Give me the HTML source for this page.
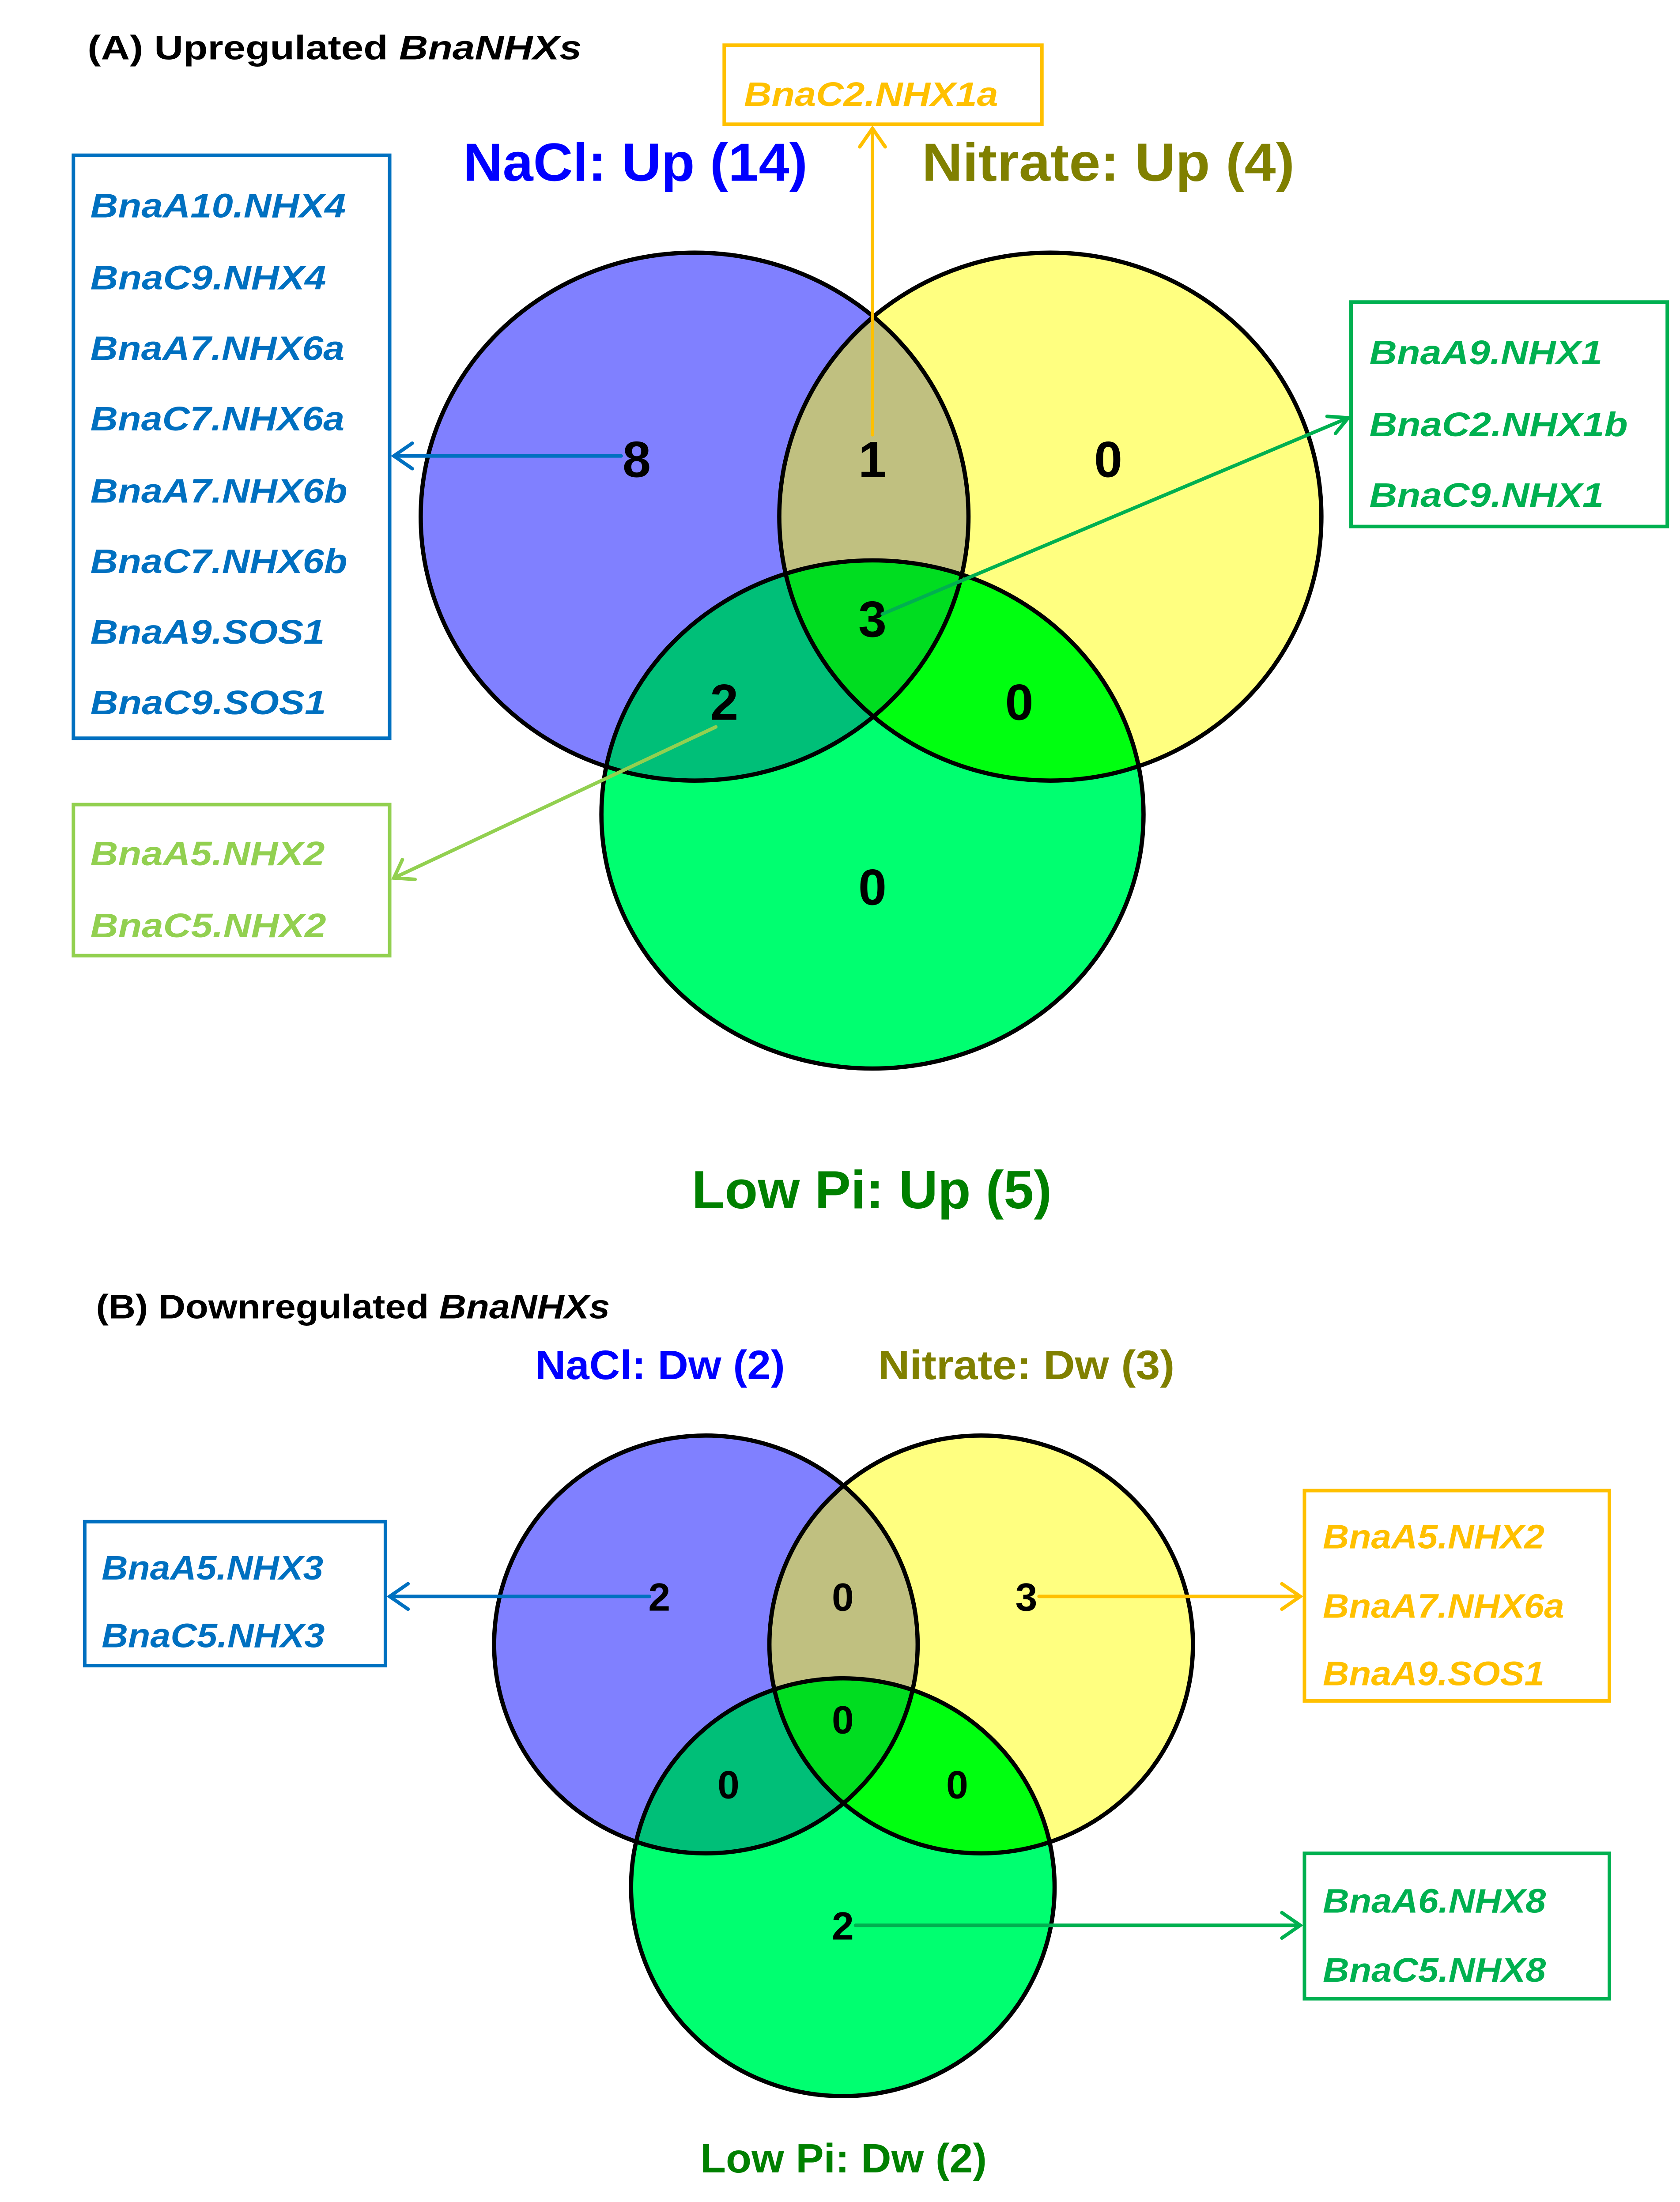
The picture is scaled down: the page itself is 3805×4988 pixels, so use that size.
<!DOCTYPE html>
<html><head><meta charset="utf-8"><style>html,body{margin:0;padding:0;background:#fff}svg{display:block}</style></head><body>
<svg xmlns="http://www.w3.org/2000/svg" width="3805" height="4988" viewBox="0 0 1190 1560" font-family="Liberation Sans, sans-serif">
<defs>
<clipPath id="cA1"><ellipse cx="492" cy="366" rx="194" ry="187"/></clipPath>
<clipPath id="cA2"><ellipse cx="744" cy="366" rx="192" ry="187"/></clipPath>
<clipPath id="cA3"><ellipse cx="618" cy="577" rx="192" ry="180"/></clipPath>
<clipPath id="cB1"><ellipse cx="500" cy="1165" rx="150" ry="148"/></clipPath>
<clipPath id="cB2"><ellipse cx="695" cy="1165" rx="150" ry="148"/></clipPath>
<clipPath id="cB3"><ellipse cx="597" cy="1337" rx="150" ry="148"/></clipPath>
</defs>
<rect width="1190" height="1560" fill="#fff"/>
<!-- Top Venn -->
<ellipse cx="492" cy="366" rx="194" ry="187" fill="#8080ff"/>
<ellipse cx="744" cy="366" rx="192" ry="187" fill="#ffff80"/>
<ellipse cx="618" cy="577" rx="192" ry="180" fill="#00ff70"/>
<g clip-path="url(#cA1)"><ellipse cx="744" cy="366" rx="192" ry="187" fill="#c0c080"/><ellipse cx="618" cy="577" rx="192" ry="180" fill="#00bf78"/></g>
<g clip-path="url(#cA2)"><ellipse cx="618" cy="577" rx="192" ry="180" fill="#00ff10"/></g>
<g clip-path="url(#cA1)"><g clip-path="url(#cA2)"><ellipse cx="618" cy="577" rx="192" ry="180" fill="#00dd20"/></g></g>
<g fill="none" stroke="#000" stroke-width="3"><ellipse cx="492" cy="366" rx="194" ry="187"/><ellipse cx="744" cy="366" rx="192" ry="187"/><ellipse cx="618" cy="577" rx="192" ry="180"/></g>
<!-- Bottom Venn -->
<ellipse cx="500" cy="1165" rx="150" ry="148" fill="#8080ff"/>
<ellipse cx="695" cy="1165" rx="150" ry="148" fill="#ffff80"/>
<ellipse cx="597" cy="1337" rx="150" ry="148" fill="#00ff70"/>
<g clip-path="url(#cB1)"><ellipse cx="695" cy="1165" rx="150" ry="148" fill="#c0c080"/><ellipse cx="597" cy="1337" rx="150" ry="148" fill="#00bf78"/></g>
<g clip-path="url(#cB2)"><ellipse cx="597" cy="1337" rx="150" ry="148" fill="#00ff10"/></g>
<g clip-path="url(#cB1)"><g clip-path="url(#cB2)"><ellipse cx="597" cy="1337" rx="150" ry="148" fill="#00dd20"/></g></g>
<g fill="none" stroke="#000" stroke-width="3"><ellipse cx="500" cy="1165" rx="150" ry="148"/><ellipse cx="695" cy="1165" rx="150" ry="148"/><ellipse cx="597" cy="1337" rx="150" ry="148"/></g>

<!-- Headers -->
<text x="62" y="42" font-size="24" font-weight="bold" textLength="350" lengthAdjust="spacingAndGlyphs">(A)  Upregulated <tspan font-style="italic">BnaNHXs</tspan></text>
<text x="68" y="934" font-size="24" font-weight="bold" textLength="364" lengthAdjust="spacingAndGlyphs">(B) Downregulated <tspan font-style="italic">BnaNHXs</tspan></text>
<text x="328" y="128" font-size="38" font-weight="bold" fill="#0000ff" textLength="244" lengthAdjust="spacingAndGlyphs">NaCl: Up (14)</text>
<text x="653" y="128" font-size="38" font-weight="bold" fill="#808000" textLength="264" lengthAdjust="spacingAndGlyphs">Nitrate: Up (4)</text>
<text x="490" y="856" font-size="38" font-weight="bold" fill="#008000" textLength="255" lengthAdjust="spacingAndGlyphs">Low Pi: Up (5)</text>
<text x="379" y="977" font-size="29" font-weight="bold" fill="#0000ff" textLength="177" lengthAdjust="spacingAndGlyphs">NaCl: Dw (2)</text>
<text x="622" y="977" font-size="29" font-weight="bold" fill="#808000" textLength="210" lengthAdjust="spacingAndGlyphs">Nitrate: Dw (3)</text>
<text x="496" y="1539" font-size="29" font-weight="bold" fill="#008000" textLength="203" lengthAdjust="spacingAndGlyphs">Low Pi: Dw (2)</text>

<!-- Numbers -->
<g font-size="36" font-weight="bold" text-anchor="middle">
<text x="451" y="338">8</text><text x="618" y="338">1</text><text x="785" y="338">0</text>
<text x="618" y="451">3</text><text x="513" y="510">2</text><text x="722" y="510">0</text><text x="618" y="641">0</text>
</g>
<g font-size="28" font-weight="bold" text-anchor="middle">
<text x="467" y="1141">2</text><text x="597" y="1141">0</text><text x="727" y="1141">3</text>
<text x="597" y="1228">0</text><text x="516" y="1274">0</text><text x="678" y="1274">0</text><text x="597" y="1374">2</text>
</g>

<!-- Boxes -->
<g fill="none" stroke-width="2.5">
<rect x="52" y="110" width="224" height="413" stroke="#0070c0"/>
<rect x="513" y="32" width="225" height="56" stroke="#ffc000"/>
<rect x="957" y="214" width="224" height="159" stroke="#00b050"/>
<rect x="52" y="570" width="224" height="107" stroke="#92d050"/>
<rect x="60" y="1078" width="213" height="102" stroke="#0070c0"/>
<rect x="924" y="1056" width="216" height="149" stroke="#ffc000"/>
<rect x="924" y="1313" width="216" height="103" stroke="#00b050"/>
</g>
<g font-size="24" font-weight="bold" font-style="italic">
<g fill="#0070c0">
<text x="64" y="154" textLength="181" lengthAdjust="spacingAndGlyphs">BnaA10.NHX4</text>
<text x="64" y="205" textLength="167" lengthAdjust="spacingAndGlyphs">BnaC9.NHX4</text>
<text x="64" y="255" textLength="180" lengthAdjust="spacingAndGlyphs">BnaA7.NHX6a</text>
<text x="64" y="305" textLength="180" lengthAdjust="spacingAndGlyphs">BnaC7.NHX6a</text>
<text x="64" y="356" textLength="182" lengthAdjust="spacingAndGlyphs">BnaA7.NHX6b</text>
<text x="64" y="406" textLength="182" lengthAdjust="spacingAndGlyphs">BnaC7.NHX6b</text>
<text x="64" y="456" textLength="166" lengthAdjust="spacingAndGlyphs">BnaA9.SOS1</text>
<text x="64" y="506" textLength="167" lengthAdjust="spacingAndGlyphs">BnaC9.SOS1</text>
<text x="72" y="1119" textLength="157" lengthAdjust="spacingAndGlyphs">BnaA5.NHX3</text>
<text x="72" y="1167" textLength="158" lengthAdjust="spacingAndGlyphs">BnaC5.NHX3</text>
</g>
<g fill="#ffc000">
<text x="527" y="75" textLength="180" lengthAdjust="spacingAndGlyphs">BnaC2.NHX1a</text>
<text x="937" y="1097" textLength="157" lengthAdjust="spacingAndGlyphs">BnaA5.NHX2</text>
<text x="937" y="1146" textLength="171" lengthAdjust="spacingAndGlyphs">BnaA7.NHX6a</text>
<text x="937" y="1194" textLength="157" lengthAdjust="spacingAndGlyphs">BnaA9.SOS1</text>
</g>
<g fill="#00b050">
<text x="970" y="258" textLength="165" lengthAdjust="spacingAndGlyphs">BnaA9.NHX1</text>
<text x="970" y="309" textLength="183" lengthAdjust="spacingAndGlyphs">BnaC2.NHX1b</text>
<text x="970" y="359" textLength="166" lengthAdjust="spacingAndGlyphs">BnaC9.NHX1</text>
<text x="937" y="1355" textLength="158" lengthAdjust="spacingAndGlyphs">BnaA6.NHX8</text>
<text x="937" y="1404" textLength="158" lengthAdjust="spacingAndGlyphs">BnaC5.NHX8</text>
</g>
<g fill="#92d050">
<text x="64" y="613" textLength="166" lengthAdjust="spacingAndGlyphs">BnaA5.NHX2</text>
<text x="64" y="664" textLength="167" lengthAdjust="spacingAndGlyphs">BnaC5.NHX2</text>
</g>
</g>

<!-- Arrows -->
<g fill="none" stroke-width="2.5" stroke-linecap="round">
<g stroke="#0070c0"><line x1="440" y1="323" x2="279" y2="323"/><polyline points="292,314 279,323 292,332"/></g>
<g stroke="#ffc000"><line x1="618" y1="308" x2="618" y2="91"/><polyline points="609,104 618,91 627,104"/></g>
<g stroke="#00b050"><line x1="625" y1="435" x2="955" y2="296"/><polyline points="940,295 955,296 946,307"/></g>
<g stroke="#92d050"><line x1="507" y1="515" x2="279" y2="622"/><polyline points="285,609 279,622 294,623"/></g>
<g stroke="#0070c0"><line x1="460" y1="1131" x2="276" y2="1131"/><polyline points="289,1122 276,1131 289,1140"/></g>
<g stroke="#ffc000"><line x1="736" y1="1131" x2="921" y2="1131"/><polyline points="908,1122 921,1131 908,1140"/></g>
<g stroke="#00b050"><line x1="606" y1="1364" x2="921" y2="1364"/><polyline points="908,1355 921,1364 908,1373"/></g>
</g>
</svg>
</body></html>
